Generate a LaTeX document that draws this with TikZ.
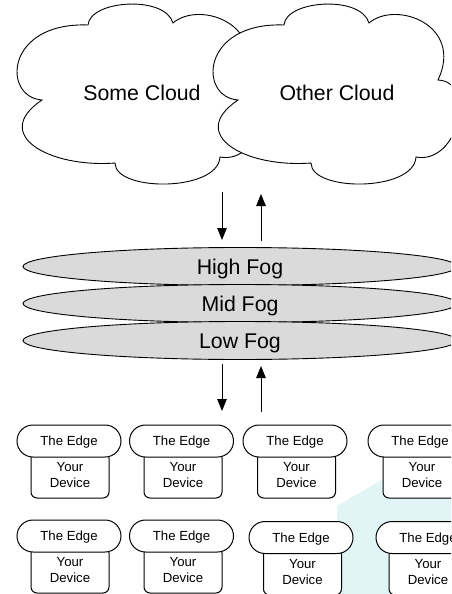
\documentclass[tikz,border=0pt]{standalone}
\usepackage{fontspec}
\setmainfont{Liberation Sans}
\usetikzlibrary{arrows.meta,shapes.geometric}

\definecolor{foggray}{RGB}{218,218,218}
\definecolor{tint}{RGB}{225,244,246}

\tikzset{
  cloudlabel/.style={font=\fontsize{21.3}{25}\selectfont, text height=15.3pt, text depth=0pt, inner sep=0pt},
  foglayer/.style={ellipse, draw=black, line width=0.9pt, fill=foggray,
    minimum width=434pt, minimum height=38pt, inner sep=0pt,
    font=\fontsize{21.3}{25}\selectfont, text height=15.3pt, text depth=0pt},
  edgepill/.style={draw, line width=1pt, fill=white, rounded corners=16pt,
    minimum width=104pt, minimum height=32pt, inner sep=0pt,
    font=\fontsize{13.2}{16}\selectfont, text height=9.5pt, text depth=0pt},
  devicebox/.style={draw, line width=1pt, fill=white, rounded corners=6pt,
    minimum width=78pt, minimum height=46pt, inner sep=0pt, align=center,
    font=\fontsize{13.2}{16}\selectfont},
  flow/.style={line width=0.9pt, -{Triangle[length=12pt,width=9.5pt]}},
  pics/puffcloud/.style={code={
    \draw[line width=0.9pt, fill=white]
      (42,100) .. controls (2,97) and (5,22) .. (88,25)
      .. controls (90,0) and (165,-5) .. (173,23)
      .. controls (200,0) and (268,25) .. (242,80)
      .. controls (282,82) and (262,165) .. (220,157)
      .. controls (218,192) and (115,192) .. (115,163)
      .. controls (50,168) and (-10,135) .. (42,100) -- cycle;
  }}
}

\begin{document}
\begin{tikzpicture}[x=1pt,y=-1pt]
  \useasboundingbox (0,0) rectangle (451,594);
  \clip (0,0) rectangle (451,594);

  % pale tinted backdrop, lower right
  \fill[tint] (337,594) -- (337,506) -- (392,474) -- (451,474) -- (451,594) -- cycle;

  % clouds
  \pic at (0,0) {puffcloud};
  \node[cloudlabel] (somecloud) at (142,93) {Some Cloud};
  \pic at (196,0) {puffcloud};
  \node[cloudlabel] (othercloud) at (337,93) {Other Cloud};

  % fog layers
  \node[foglayer] (highfog) at (240,266.5) {High Fog};
  \node[foglayer] (midfog)  at (240,303.5) {Mid Fog};
  \node[foglayer] (lowfog)  at (240,340.5) {Low Fog};

  % traffic between cloud and fog
  \coordinate (cdownA) at (222,192);
  \coordinate (cdownB) at (222,240);
  \coordinate (cupA)   at (261,241);
  \coordinate (cupB)   at (261,194);
  \draw[flow] (cdownA) -- (cdownB);
  \draw[flow] (cupA) -- (cupB);

  % traffic between fog and edge
  \coordinate (edownA) at (222,364);
  \coordinate (edownB) at (222,411);
  \coordinate (eupA)   at (261,412);
  \coordinate (eupB)   at (261,366);
  \draw[flow] (edownA) -- (edownB);
  \draw[flow] (eupA) -- (eupB);

  % edge row 1
  \node[devicebox] (dev11) at (70,475)    {Your\\Device};
  \node[edgepill]  (edge11) at (69,441)   {The Edge};
  \node[devicebox] (dev12) at (183,475)   {Your\\Device};
  \node[edgepill]  (edge12) at (181.5,441) {The Edge};
  \node[devicebox] (dev13) at (296.5,475) {Your\\Device};
  \node[edgepill]  (edge13) at (295,441)  {The Edge};
  \node[devicebox] (dev14) at (422,475)   {Your\\Device};
  \node[edgepill]  (edge14) at (420,441)  {The Edge};

  % edge row 2
  \node[devicebox] (dev21) at (70,570)    {Your\\Device};
  \node[edgepill]  (edge21) at (69,536)   {The Edge};
  \node[devicebox] (dev22) at (183,570)   {Your\\Device};
  \node[edgepill]  (edge22) at (181.5,536) {The Edge};
  \node[devicebox] (dev23) at (302.5,572) {Your\\Device};
  \node[edgepill]  (edge23) at (301,537.5) {The Edge};
  \node[devicebox] (dev24) at (428,572)   {Your\\Device};
  \node[edgepill]  (edge24) at (428,537.5) {The Edge};
\end{tikzpicture}
\end{document}
